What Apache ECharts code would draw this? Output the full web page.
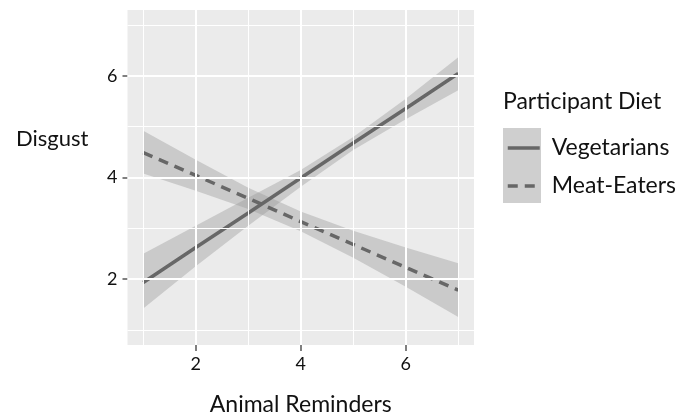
<!DOCTYPE html>
<html>
<head>
<meta charset="utf-8">
<script src="https://cdn.jsdelivr.net/npm/echarts@6/dist/echarts.min.js"></script>
<style>
  html, body { margin: 0; padding: 0; background: #fff; }
  #chart { width: 688px; height: 418px; }
</style>
</head>
<body>
<div id="chart"></div>
<script>
const reminders = [1, 2, 3, 4, 5, 6, 7]
const vegFit = [1.93, 2.62, 3.30, 3.99, 4.68, 5.36, 6.05]
const vegLow = [1.42, 2.25, 3.05, 3.82, 4.54, 5.15, 5.72]
const vegHigh = [2.50, 3.05, 3.60, 4.15, 4.80, 5.55, 6.37]
const meatFit = [4.49, 4.04, 3.59, 3.13, 2.68, 2.23, 1.78]
const meatLow = [4.08, 3.74, 3.38, 2.94, 2.42, 1.85, 1.25]
const meatHigh = [4.92, 4.35, 3.80, 3.33, 2.95, 2.62, 2.31]
const majorTicks = [2, 4, 6]
const minorTicks = [1, 3, 5, 7]

const font = 'Lato, "Open Sans", sans-serif'
const lineColor = '#676767'

const pairs = (ys) => reminders.map((x, i) => [x, ys[i]])

// ribbon drawn as one polygon: upper edge forwards, lower edge back
const band = (lo, hi) => ({
  type: 'custom', silent: true, z: 2,
  data: [0],
  renderItem: (params, api) => {
    const top = reminders.map((x, i) => api.coord([x, hi[i]]))
    const bottom = reminders.map((x, i) => api.coord([x, lo[i]])).reverse()
    return {
      type: 'polygon',
      shape: { points: top.concat(bottom) },
      style: { fill: '#999999', opacity: 0.4 }
    }
  }
})

const gridLines = (vals, width) => [
  ...vals.map(v => ({ xAxis: v, lineStyle: { color: '#ffffff', width: width, type: 'solid' } })),
  ...vals.map(v => ({ yAxis: v, lineStyle: { color: '#ffffff', width: width, type: 'solid' } }))
]

const chart = echarts.init(document.getElementById('chart'))
chart.setOption({
  animation: false,
  grid: {
    left: 127.5, top: 10, right: 214, bottom: 73,
    outerBoundsMode: 'none',
    show: true, backgroundColor: '#ebebeb', borderWidth: 0
  },
  legend: {
    data: ['Vegetarians', 'Meat-Eaters'],
    orient: 'vertical',
    left: 506, top: 135, padding: 0,
    itemWidth: 32, itemHeight: 14, itemGap: 12,
    itemStyle: { opacity: 0 },
    lineStyle: { width: 3.5 },
    textStyle: { fontFamily: font, fontSize: 23, color: '#111', lineHeight: 26, padding: [0, 0, 0, 7] }
  },
  graphic: [
    { type: 'rect', left: 503, top: 128, shape: { width: 38, height: 75 }, style: { fill: '#cfcfcf' }, z: -1 },
    { type: 'text', left: 503, top: 90, style: { text: 'Participant Diet', font: '23px ' + font, fill: '#111' } },
    { type: 'text', left: 16, top: 128, style: { text: 'Disgust', font: '22px ' + font, fill: '#111' } }
  ],
  xAxis: {
    type: 'value', min: 0.7, max: 7.3,
    name: 'Animal Reminders', nameLocation: 'middle', nameGap: 48,
    nameTextStyle: { fontFamily: font, fontSize: 23, color: '#111' },
    axisLine: { show: false },
    axisTick: { show: true, length: 6, customValues: majorTicks, lineStyle: { color: '#555', width: 1.5 } },
    axisLabel: { customValues: majorTicks, margin: 10, fontFamily: font, fontSize: 18, color: '#111' },
    splitLine: { show: false }
  },
  yAxis: {
    type: 'value', min: 0.7, max: 7.3,
    axisLine: { show: false },
    axisTick: { show: true, length: 5, customValues: majorTicks, lineStyle: { color: '#555', width: 1.5 } },
    axisLabel: { customValues: majorTicks, margin: 10, fontFamily: font, fontSize: 18, color: '#111' },
    splitLine: { show: false }
  },
  series: [
    {
      type: 'line', data: [], z: 1, silent: true,
      markLine: {
        silent: true, symbol: ['none', 'none'], label: { show: false },
        data: [...gridLines(minorTicks, 1), ...gridLines(majorTicks, 2)]
      }
    },
    band(vegLow, vegHigh),
    band(meatLow, meatHigh),
    {
      name: 'Vegetarians', type: 'line', data: pairs(vegFit), symbol: 'none', z: 3,
      itemStyle: { color: lineColor },
      lineStyle: { color: lineColor, width: 3.5 }
    },
    {
      name: 'Meat-Eaters', type: 'line', data: pairs(meatFit), symbol: 'none', z: 3,
      itemStyle: { color: lineColor },
      lineStyle: { color: lineColor, width: 3.5, type: [10, 7] }
    }
  ]
})
</script>
</body>
</html>
